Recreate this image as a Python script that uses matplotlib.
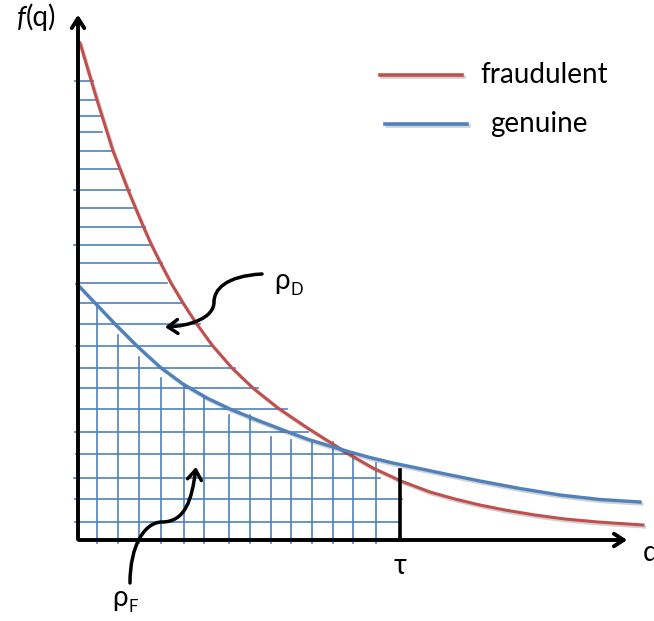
import matplotlib.pyplot as plt
import matplotlib.patheffects as pe
from matplotlib.patches import FancyArrowPatch
from matplotlib.path import Path

plt.rcParams['font.family'] = ['Lato', 'DejaVu Sans']

# schematic curves (x right, y down)
red_x = [80, 91, 97, 102, 113, 120, 128, 135.5, 143.5, 151.5, 160.5, 171, 183, 196, 212, 232, 253, 278, 306,
         336, 352, 373, 401, 430, 455, 480, 505, 535, 565, 598, 643]
red_y = [43, 80, 100, 116, 151, 169, 190, 208, 227, 245, 263, 283, 303, 323, 345, 368, 388, 408, 427,
         446, 456, 468, 481, 492, 499, 505, 510, 515, 519, 522, 525]
blue_x = [77, 97, 117, 137, 160, 183, 207, 230, 257, 283, 307, 330, 350, 370, 393, 417, 443, 480,
          520, 560, 600, 640]
blue_y = [284, 305, 326, 346, 367, 384, 398, 409, 420, 430, 439, 446, 452, 457.5, 463, 468, 473.5, 481,
          488.5, 495, 499.5, 502]

# hatch lines
hatch_y = [81, 100, 116, 132, 151, 169, 190, 208, 227, 245, 263, 283, 303, 324, 346, 368, 388, 409, 432, 454, 478, 499, 522]
hatch_x0 = [75, 77, 78, 78, 77, 78, 74, 77, 78, 74, 78, 77, 77, 77, 76, 77, 77, 77, 75, 76, 74, 75, 75]
hatch_x_end = [93, 97, 101, 102, 113, 119, 130, 133, 145, 150, 162, 167, 183, 200, 213, 235, 258, 287, 308, 348, 380, 402, 400]
vline_x = [97, 118, 139, 161, 184, 204, 229, 250, 271, 291, 312, 333, 353, 376]
vline_top = [305, 335, 357, 378, 387, 397, 415, 415, 437, 440, 443, 442, 453, 463]

tau_x = 400
tau_top = 470
axis_y = 540
axis_x = 78

red = '#C0504D'
blue = '#4F81BD'
shadow = [pe.SimpleLineShadow(offset=(1.2, -1.5), alpha=0.18), pe.Normal()]

fig = plt.figure(figsize=(6.54, 6.21), dpi=100)
ax = fig.add_axes([0, 0, 1, 1])
ax.set_xlim(0, 654)
ax.set_ylim(621, 0)
ax.axis('off')

for y, x0, xe in zip(hatch_y, hatch_x0, hatch_x_end):
    ax.plot([x0, xe], [y, y], color=blue, lw=1.2, zorder=1)
for x, yt in zip(vline_x, vline_top):
    ax.plot([x, x], [axis_y + 3, yt], color=blue, lw=1.2, zorder=1)

ax.plot(red_x, red_y, color=red, lw=2.2, zorder=3, solid_joinstyle='round', path_effects=shadow)
ax.plot(blue_x, blue_y, color=blue, lw=2.4, zorder=3, solid_joinstyle='round', path_effects=shadow)

# tau marker
ax.plot([tau_x, tau_x], [axis_y, tau_top], color='black', lw=2.6, zorder=4)

# axes with arrows
ax.annotate('', xy=(axis_x, 12), xytext=(axis_x, axis_y + 2),
            arrowprops=dict(arrowstyle='->,head_length=0.7,head_width=0.45', lw=2.8, color='black'), zorder=5)
ax.annotate('', xy=(630, axis_y), xytext=(axis_x - 2, axis_y),
            arrowprops=dict(arrowstyle='->,head_length=0.7,head_width=0.45', lw=2.8, color='black'), zorder=5)

ax.text(26, 19, 'f', fontsize=20, style='italic', ha='right', va='center')
ax.text(26, 17, '(q)', fontsize=20, ha='left', va='center')
ax.text(643, 553, 'q', fontsize=20, ha='left', va='center')
ax.text(400, 566, 'τ', fontsize=20, ha='center', va='center')

ax.text(274, 281, 'ρ', fontsize=20, ha='left', va='center')
ax.text(291, 290, 'D', fontsize=12, ha='left', va='center')
ax.text(112, 598, 'ρ', fontsize=20, ha='left', va='center')
ax.text(129, 607, 'F', fontsize=12, ha='left', va='center')

# curly arrows
codes = [Path.MOVETO, Path.CURVE4, Path.CURVE4, Path.CURVE4, Path.CURVE4, Path.CURVE4, Path.CURVE4]
verts_d = [(262, 274), (225, 276), (214, 290), (214, 302), (214, 318), (190, 326), (165, 327)]
ax.add_patch(FancyArrowPatch(path=Path(verts_d, codes),
                             arrowstyle='->,head_length=7,head_width=5', lw=2.5, color='black', zorder=6))
verts_f = [(130, 583), (130, 545), (145, 522), (162, 522), (185, 522), (192, 500), (196, 467)]
ax.add_patch(FancyArrowPatch(path=Path(verts_f, codes),
                             arrowstyle='->,head_length=7,head_width=5', lw=2.5, color='black', zorder=6))

# legend
ax.plot([380, 462], [75, 75], color=red, lw=2.6, path_effects=shadow)
ax.plot([385, 467], [124, 124], color=blue, lw=2.6, path_effects=shadow)
ax.text(480, 75, 'fraudulent', fontsize=20, ha='left', va='center')
ax.text(490, 124, 'genuine', fontsize=20, ha='left', va='center')

fig.savefig('out.png', dpi=100)
